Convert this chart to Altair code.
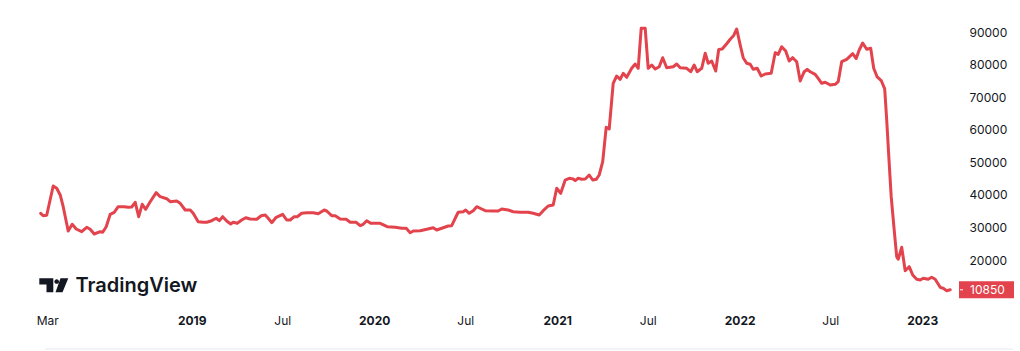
import altair as alt
import pandas as pd

# ---- data ----
dates = [
    "2018-03-05","2018-03-10","2018-03-17","2018-03-30","2018-04-06","2018-04-13","2018-04-19","2018-04-29","2018-05-07","2018-05-15",
    "2018-05-26","2018-06-05","2018-06-12","2018-06-20","2018-07-02","2018-07-07","2018-07-14","2018-07-22","2018-07-30","2018-08-07",
    "2018-08-19","2018-08-27","2018-09-03","2018-09-10","2018-09-17","2018-09-24","2018-10-01","2018-10-10","2018-10-22","2018-10-30",
    "2018-11-12","2018-11-19",
    "2018-12-02","2018-12-09","2018-12-19","2018-12-29","2019-01-04","2019-01-14","2019-01-24","2019-01-31","2019-02-10","2019-02-19",
    "2019-02-25","2019-03-04","2019-03-12","2019-03-20","2019-03-25","2019-04-02","2019-04-11","2019-04-19","2019-04-28","2019-05-11",
    "2019-05-20","2019-05-28","2019-06-03","2019-06-10","2019-06-19","2019-07-02","2019-07-10","2019-07-17","2019-07-25","2019-07-31",
    "2019-08-09","2019-08-19","2019-09-01",
    "2019-09-11","2019-09-23","2019-09-28","2019-10-08","2019-10-15","2019-10-25","2019-11-06","2019-11-14","2019-11-26","2019-12-04",
    "2019-12-10","2019-12-17","2019-12-25","2020-01-13","2020-01-27","2020-02-12","2020-02-25","2020-03-05","2020-03-13","2020-03-19",
    "2020-04-02","2020-04-15","2020-04-28","2020-05-05","2020-05-15","2020-05-28","2020-06-04","2020-06-11","2020-06-17","2020-06-27",
    "2020-07-02","2020-07-09","2020-07-17","2020-07-24","2020-08-03","2020-08-10","2020-08-26","2020-09-05","2020-09-12","2020-09-25",
    "2020-10-05","2020-10-19","2020-11-04","2020-11-14","2020-11-26",
    "2020-12-04","2020-12-14","2020-12-24","2020-12-31","2021-01-08","2021-01-17","2021-01-25","2021-02-02","2021-02-06","2021-02-12",
    "2021-02-19","2021-02-26","2021-03-06","2021-03-13","2021-03-20","2021-03-26","2021-04-02","2021-04-09","2021-04-15","2021-04-23",
    "2021-04-30","2021-05-07","2021-05-13","2021-05-20","2021-05-30","2021-06-06","2021-06-12","2021-06-18","2021-06-26","2021-07-02",
    "2021-07-09","2021-07-16","2021-07-24","2021-07-31","2021-08-08","2021-08-21","2021-08-28","2021-09-04","2021-09-17","2021-09-25",
    "2021-10-02","2021-10-08","2021-10-17","2021-10-24","2021-10-30","2021-11-06","2021-11-14","2021-11-20","2021-11-27","2021-12-06",
    "2021-12-13","2021-12-20","2021-12-26",
    "2022-01-02","2022-01-08","2022-01-15","2022-01-22","2022-01-28","2022-02-05","2022-02-13","2022-02-21","2022-03-05","2022-03-13",
    "2022-03-19","2022-03-26","2022-04-03","2022-04-10","2022-04-17","2022-04-25","2022-05-02","2022-05-10","2022-05-16","2022-05-22",
    "2022-06-01","2022-06-07","2022-06-14","2022-06-21","2022-07-01","2022-07-11","2022-07-17","2022-07-24","2022-08-03","2022-08-15",
    "2022-08-22","2022-08-28","2022-09-04","2022-09-12","2022-09-20","2022-09-26","2022-10-03","2022-10-11","2022-10-18","2022-10-22",
    "2022-10-27","2022-10-31","2022-11-06","2022-11-11","2022-11-14","2022-11-21","2022-11-28","2022-12-06","2022-12-13","2022-12-21",
    "2022-12-28","2023-01-03","2023-01-13","2023-01-20","2023-01-27","2023-02-06","2023-02-12","2023-02-19","2023-02-26",
]

prices = [
    34340,33600,33730,42720,42020,39960,36370,28910,30960,29520,
    28690,30040,29430,27990,28690,28510,30230,34030,34650,36370,
    36370,36180,36280,37720,33300,37100,35570,37900,40670,39440,
    38820,37900,
    38120,37410,35350,35350,34340,31760,31580,31580,32070,32810,
    32070,33300,31980,31060,31580,31270,32280,32990,32590,32500,
    33600,33820,32810,31460,33110,34030,32280,32280,33300,33300,
    34340,34530,34530,
    34220,35350,35050,33600,33600,32590,32500,31580,31580,30530,
    30960,32070,31270,31270,30230,30040,29740,29740,28390,28910,
    29000,29430,29920,29210,29740,30440,30530,32810,34650,34830,
    35350,34340,35140,36370,35660,35140,35050,35050,35660,35350,
    34830,34650,34650,34340,33820,
    35140,36580,36890,42020,40480,44560,45090,44870,44350,45090,
    44780,44870,46100,44560,44780,46100,50180,60740,60220,74250,
    76490,75480,77320,76090,78860,80180,78860,91140,91140,78860,
    79870,78640,79350,82110,79040,79350,80180,79040,78860,77810,
    79870,77810,78860,83460,80390,81100,78030,84630,84780,86410,
    87760,88930,90920,
    86010,82110,80390,80080,78550,78860,76490,77110,77320,83650,
    83150,85490,84170,81100,82110,80880,74960,77810,78550,77810,
    77010,75790,74250,74560,73730,73940,74740,80880,81620,83340,
    81860,84470,86620,84690,85000,78860,76190,75110,72560,62980,
    49690,39440,29210,21020,20220,23900,16720,17950,15400,14080,
    13860,14390,14080,14690,14080,11620,11320,10580,10850,
]

x_tick_dates = ["2018-03-18", "2019-01-01", "2019-07-01", "2020-01-01", "2020-07-01",
                "2021-01-01", "2021-07-01", "2022-01-01", "2022-07-01", "2023-01-01"]
y_ticks = [20000, 30000, 40000, 50000, 60000, 70000, 80000, 90000]
last_price = 10850

# ---- styling ----
RED = "#e2434c"
INK = "#131722"
FONT = "Inter"


def ms(s):
    return int(pd.Timestamp(s, tz="UTC").value // 10**6)


DAY = 86400000
x_domain = [ms("2019-01-01") - int(383.4 * DAY), ms("2019-01-01") + int(1532.6 * DAY)]
y_domain = [4654, 99824]

df = pd.DataFrame({"date": dates, "price": prices})
df_last = pd.DataFrame({"price": [last_price], "label": [str(last_price)]})
one = pd.DataFrame({"a": [0]})

x_enc = alt.X(
    "date:T",
    scale=alt.Scale(type="utc", domain=x_domain),
    axis=alt.Axis(
        values=[ms(d) for d in x_tick_dates],
        labelExpr="utcmonth(datum.value) === 0 ? utcFormat(datum.value, '%Y') : utcFormat(datum.value, '%b')",
        labelFontWeight={"condition": {"test": "utcmonth(datum.value) === 0", "value": "bold"}, "value": "normal"},
        grid=False, domain=False, ticks=False, tickSize=0,
        labelPadding=5, labelFont=FONT, labelFontSize=12, labelColor=INK,
        labelFlush=False, labelOverlap=False, labelBound=False, title=None,
    ),
)

y_scale = alt.Scale(domain=y_domain, nice=False, zero=False)
y_axis = alt.Axis(
    orient="right", values=y_ticks, format="d", grid=False, domain=False,
    ticks=False, tickSize=0, labelPadding=11, labelAlign="left",
    labelBaseline="middle", labelFont=FONT, labelFontSize=12, labelColor=INK,
    labelOverlap=False, labelBound=False, title=None,
)


def y_enc():
    return alt.Y("price:Q", scale=y_scale, axis=y_axis)


line = alt.Chart(df).mark_line(
    color=RED, strokeWidth=3, strokeJoin="round", strokeCap="round"
).encode(x=x_enc, y=y_enc())

price_box = alt.Chart(df_last).mark_tick(
    color=RED, orient="horizontal", size=55, thickness=17, opacity=1
).encode(x=alt.value(986.5), y=y_enc())

price_dash = alt.Chart(df_last).mark_tick(
    color="white", orient="horizontal", size=3, thickness=1, opacity=1
).encode(x=alt.value(961.5), y=y_enc())

price_text = alt.Chart(df_last).mark_text(
    align="left", baseline="middle", color="white", font=FONT, fontSize=12
).encode(x=alt.value(970), y=y_enc(), text="label:N")

LOGO = ("M-1,-0.483L-0.034,-0.483L-0.034,0.483L-0.503,0.483L-0.503,-0.055L-1,-0.055Z "
        "M0.04,-0.262A0.16,0.16,0,1,0,0.36,-0.262A0.16,0.16,0,1,0,0.04,-0.262Z "
        "M0.462,-0.483L1,-0.483L0.6,0.483L0.117,0.483Z")

logo_icon = alt.Chart(one).mark_point(
    shape=LOGO, filled=True, size=841, color=INK, opacity=1, strokeWidth=0
).encode(x=alt.value(53.8), y=alt.value(285.3))

logo_text = alt.Chart(one).mark_text(
    text="TradingView", align="left", baseline="middle", font=FONT,
    fontSize=20, fontWeight=600, color=INK
).encode(x=alt.value(75.5), y=alt.value(286))

bottom_rule = alt.Chart(one).mark_rule(color="#e6e8ee", strokeWidth=1).encode(
    x=alt.value(45), x2=alt.value(1013), y=alt.value(349)
)

chart = alt.layer(
    line, price_box, price_dash, price_text, logo_icon, logo_text, bottom_rule
).properties(
    width=958,
    height=310,
    padding={"left": 0, "top": 0, "right": 62, "bottom": 41},
    autosize=alt.AutoSizeParams(type="none"),
    background="white",
).configure_view(strokeWidth=0)

chart.save("out.html", embed_options={"renderer": "svg", "actions": False})
